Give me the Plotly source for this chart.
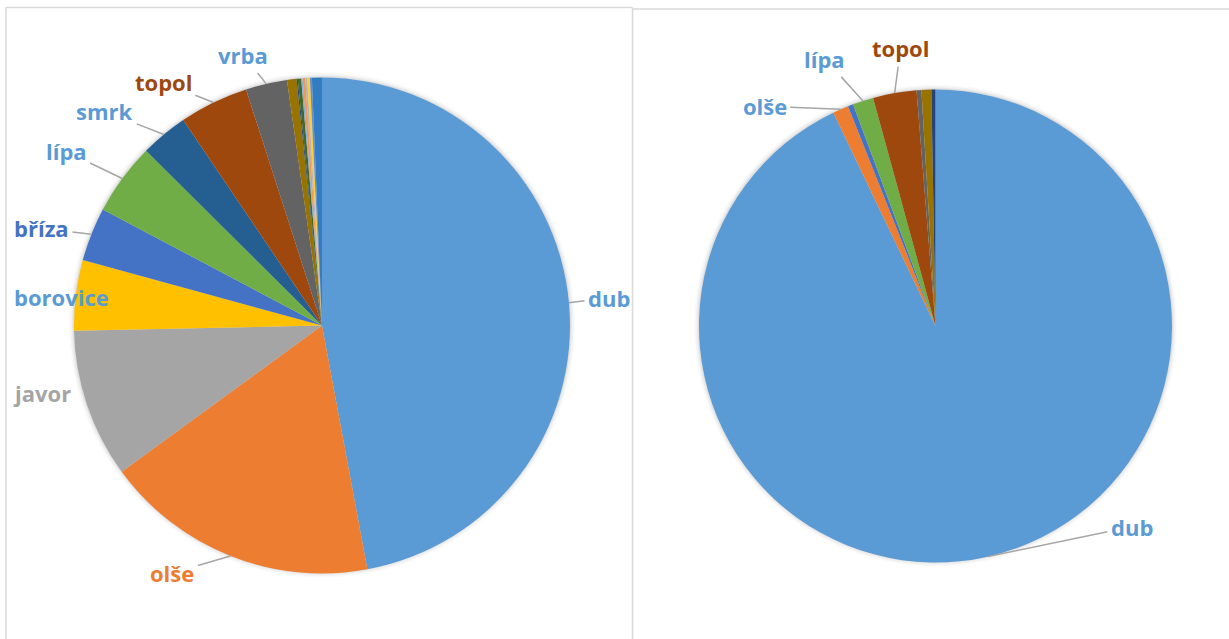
import math
import plotly.graph_objects as go

W, H = 1229, 639

# ---------------- data ----------------
categories = ["dub", "olše", "javor", "borovice", "bříza", "lípa", "smrk", "topol", "vrba",
              "jasan", "habr", "jilm", "buk", "modřín", "jedle", "akát", "jeřáb", "ořešák", "třešeň"]
values_left = [47.1, 17.9, 9.7, 4.6, 3.5, 4.7, 3.1, 4.5, 2.7,
               0.62, 0.08, 0.22, 0.09, 0.17, 0.13, 0.17, 0.13, 0.0, 0.65]
values_right = [92.9, 1.08, 0.0, 0.0, 0.36, 1.42, 0.0, 2.97, 0.33,
                0.67, 0.28, 0.0, 0.0, 0.0, 0.0, 0.0, 0.0, 0.0, 0.0]
labels_left = ["dub", "olše", "javor", "borovice", "bříza", "lípa", "smrk", "topol", "vrba"]
labels_right = ["olše", "lípa", "topol", "dub"]

# ---------------- styles ----------------
slice_colors = ["#5B9BD5", "#ED7D31", "#A5A5A5", "#FFC000", "#4472C4", "#70AD47", "#255E91",
                "#9E480E", "#636363", "#997300", "#264478", "#43682B", "#7CAFDD", "#F1975A",
                "#B7B7B7", "#FFCD33", "#698ED0", "#8CC168", "#327DC2"]
label_colors_left = {"dub": "#5B9BD5", "olše": "#ED7D31", "javor": "#A5A5A5", "borovice": "#5B9BD5",
                     "bříza": "#4472C4", "lípa": "#5B9BD5", "smrk": "#5B9BD5", "topol": "#9E480E",
                     "vrba": "#5B9BD5"}
label_colors_right = {"olše": "#5B9BD5", "lípa": "#5B9BD5", "topol": "#9E480E", "dub": "#5B9BD5"}
# label offset (px) from slice edge midpoint, and whether a leader line is drawn
offsets_left = {"dub": (40, -5, True), "olše": (-58, 17, True), "javor": (-45, -12, False),
                "borovice": (-14, 2, False), "bříza": (-50, -6, True), "lípa": (-56, -27, True),
                "smrk": (-59, -23, True), "topol": (-50, -20, True), "vrba": (-23, -29, True)}
offsets_right = {"olše": (-76, -3, True), "lípa": (-38, -42, True), "topol": (6, -45, True),
                 "dub": (144, -30, True)}
GEO_LEFT = dict(cx=322, cy=325.5, r=248)
GEO_RIGHT = dict(cx=935.5, cy=326, r=236.5)
FONT = "Open Sans"
FONT_SIZE = 22
LEADER = "#A6A6A6"


def px2x(px):
    return px / W


def px2y(py):
    return 1 - py / H


def domain(geo):
    return dict(x=[px2x(geo["cx"] - geo["r"]), px2x(geo["cx"] + geo["r"])],
                y=[px2y(geo["cy"] + geo["r"]), px2y(geo["cy"] - geo["r"])])


def edge_mid(values, cat, geo):
    total = sum(values)
    i = categories.index(cat)
    cum = sum(values[:i])
    a = 2 * math.pi * (cum + values[i] / 2) / total
    return geo["cx"] + geo["r"] * math.sin(a), geo["cy"] - geo["r"] * math.cos(a)


fig = go.Figure()
for vals, geo in ((values_left, GEO_LEFT), (values_right, GEO_RIGHT)):
    fig.add_trace(go.Pie(labels=categories, values=vals, sort=False, direction="clockwise",
                         rotation=0, marker=dict(colors=slice_colors, line=dict(width=0)),
                         textinfo="none", domain=domain(geo), showlegend=False,
                         hoverinfo="label+percent"))

annotations = []
for vals, geo, labs, cols, offs in ((values_left, GEO_LEFT, labels_left, label_colors_left, offsets_left),
                                    (values_right, GEO_RIGHT, labels_right, label_colors_right, offsets_right)):
    for cat in labs:
        mx, my = edge_mid(vals, cat, geo)
        ox, oy, line = offs[cat]
        font = dict(family=FONT, size=FONT_SIZE, color=cols[cat], weight="bold")
        if line:
            annotations.append(dict(x=px2x(mx), y=px2y(my), xref="paper", yref="paper", text=cat,
                                    showarrow=True, ax=ox, ay=oy, arrowhead=0, arrowwidth=1.5,
                                    arrowcolor=LEADER, standoff=0, startstandoff=2, font=font,
                                    xanchor="center", yanchor="middle"))
        else:
            annotations.append(dict(x=px2x(mx), y=px2y(my), xref="paper", yref="paper", text=cat,
                                    showarrow=False, xshift=ox, yshift=-oy, font=font,
                                    xanchor="center", yanchor="middle"))

shapes = []
# soft shadow behind pies
for geo in (GEO_LEFT, GEO_RIGHT):
    for extra, alpha in ((5, 0.02), (3.5, 0.03), (2, 0.04), (1, 0.05)):
        shapes.append(dict(type="circle", xref="paper", yref="paper", layer="below",
                           x0=px2x(geo["cx"] - geo["r"] - extra), x1=px2x(geo["cx"] + geo["r"] + extra),
                           y0=px2y(geo["cy"] + geo["r"] + extra - 1), y1=px2y(geo["cy"] - geo["r"] - extra),
                           fillcolor=f"rgba(0,0,0,{alpha})", line=dict(width=0)))
# panel borders
BORDER = dict(color="#D9D9D9", width=1.5)
shapes += [
    dict(type="line", xref="paper", yref="paper", x0=px2x(6), x1=px2x(6), y0=px2y(7.5), y1=px2y(650), line=BORDER),
    dict(type="line", xref="paper", yref="paper", x0=px2x(632.5), x1=px2x(632.5), y0=px2y(7.5), y1=px2y(650), line=BORDER),
    dict(type="line", xref="paper", yref="paper", x0=px2x(6), x1=px2x(632.5), y0=px2y(7.5), y1=px2y(7.5), line=BORDER),
    dict(type="line", xref="paper", yref="paper", x0=px2x(632.5), x1=px2x(1240), y0=px2y(9), y1=px2y(9), line=BORDER),
]

fig.update_layout(width=W, height=H, margin=dict(l=0, r=0, t=0, b=0),
                  paper_bgcolor="white", plot_bgcolor="white",
                  annotations=annotations, shapes=shapes)
fig.write_html("out.html", config={"displayModeBar": False},
               post_script="document.body.style.margin='0';document.body.style.overflow='hidden';")
